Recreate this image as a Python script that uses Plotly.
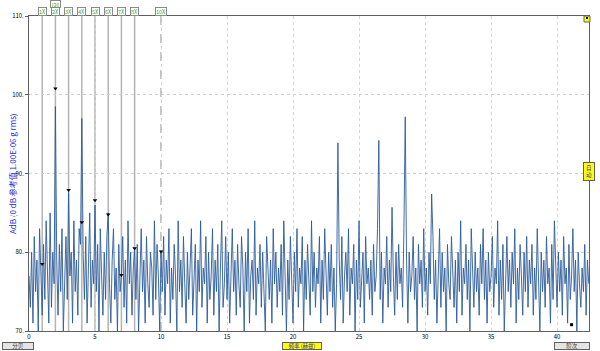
import plotly.graph_objects as go

step = 0.1
amp_db = [
    77, 73, 80, 71, 82, 75, 79, 70, 83, 76, 72, 81, 74, 84, 78, 71, 85, 73, 80, 76,
    98.5, 79, 72, 81, 75, 83, 70, 78, 82, 74, 87.6, 77, 80, 71, 84, 75, 79, 72, 83, 81,
    97.0, 80, 74, 82, 71, 78, 85, 73, 79, 76, 86.0, 75, 81, 70, 83, 77, 72, 80, 74, 82,
    85.0, 76, 71, 79, 83, 74, 78, 70, 81, 75, 77.0, 82, 73, 79, 71, 84, 76, 80, 72, 78,
    80.5, 74, 81, 70, 77, 83, 75, 79, 71, 82, 76, 73, 80, 78, 72, 84, 74, 81, 77, 70,
    80, 75, 82, 72, 79, 76, 83, 71, 78, 74, 81, 77, 70, 84, 75, 79, 73, 82, 76, 71,
    80, 74, 78, 83, 72, 77, 81, 70, 79, 75, 84, 73, 78, 76, 82, 71, 80, 74, 77, 83,
    72, 79, 75, 81, 70, 78, 84, 73, 76, 82, 74, 80, 71, 77, 83, 75, 79, 72, 81, 76,
    73, 82, 78, 70, 80, 75, 83, 71, 77, 79, 74, 84, 72, 78, 76, 81, 73, 80, 75, 70,
    82, 77, 74, 79, 71, 83, 76, 80, 73, 78, 75, 81, 72, 84, 77, 70, 79, 74, 82, 76,
    71, 80, 75, 83, 73, 78, 76, 82, 70, 79, 74, 81, 77, 72, 84, 75, 80, 73, 78, 76,
    82, 71, 79, 74, 83, 77, 72, 80, 75, 81, 73, 78, 70, 76, 93.9, 79, 74, 82, 71, 77,
    80, 75, 83, 72, 78, 76, 81, 70, 79, 74, 84, 73, 77, 80, 71, 82, 76, 78, 74, 79,
    72, 81, 75, 77, 83, 94.2, 74, 80, 71, 78, 76, 82, 73, 79, 75, 85.7, 77, 72, 80, 74,
    81, 76, 78, 73, 83, 97.2, 79, 71, 80, 75, 77, 82, 74, 78, 70, 81, 76, 79, 73, 83,
    75, 78, 72, 80, 76, 87.4, 82, 74, 79, 71, 77, 83, 73, 80, 75, 78, 70, 81, 76, 74,
    82, 77, 73, 79, 71, 80, 75, 84, 72, 78, 76, 81, 74, 79, 70, 83, 77, 73, 80, 75,
    78, 72, 81, 76, 83, 74, 79, 71, 80, 75, 77, 82, 73, 78, 76, 84, 72, 79, 74, 81,
    70, 77, 82, 75, 79, 73, 80, 76, 83, 71, 78, 74, 81, 77, 72, 80, 75, 82, 73, 79,
    76, 81, 72, 78, 74, 83, 77, 70, 80, 75, 79, 73, 82, 76, 78, 71, 81, 74, 84, 77,
    73, 80, 75, 79, 72, 82, 76, 78, 71, 81, 74, 77, 83, 75, 79, 70, 80, 76, 73, 78,
    75, 81, 72, 79, 76,
]
freq_hz = [round(i * step, 3) for i in range(len(amp_db))]

harm_labels = ["1X", "2X", "3X", "4X", "5X", "6X", "7X", "8X", "10X"]
harm_freq = [1.0, 2.0, 3.0, 4.0, 5.0, 6.0, 7.0, 8.0, 10.0]
harm_marker_db = [78.5, 100.8, 87.9, 83.8, 86.6, 84.8, 77.1, 80.5, 80.1]

x_ticks = [0, 5, 10, 15, 20, 25, 30, 35, 40]
y_ticks = [70, 80, 90, 100, 110]
y_ticktext = ["70.", "80.", "90.", "100.", "110."]

cursor_freq = [41.1]
cursor_db = [70.8]

FONT = "Noto Sans CJK SC, Liberation Sans, Arial"

fig_w, fig_h = 600, 351
ml, mr, mt, mb = 29, 11, 16, 20
pw, ph = fig_w - ml - mr, fig_h - mt - mb


def px_to_paper_x(px):
    return (px - ml) / pw


def px_to_paper_y(py):
    return (fig_h - mb - py) / ph


fig = go.Figure()
fig.add_trace(go.Scatter(x=freq_hz, y=amp_db, mode="lines",
                         line=dict(color="#2b5b9a", width=0.9), hoverinfo="skip",
                         showlegend=False))
fig.add_trace(go.Scatter(x=harm_freq, y=harm_marker_db, mode="markers",
                         marker=dict(symbol="triangle-down", size=4, color="black"),
                         showlegend=False))
fig.add_trace(go.Scatter(x=cursor_freq, y=cursor_db, mode="markers",
                         marker=dict(symbol="square", size=3, color="black"),
                         showlegend=False))

shapes = []
annotations = []
for lab, f in zip(harm_labels, harm_freq):
    dashed = lab == "10X"
    shapes.append(dict(type="line", xref="x", yref="paper", x0=f, x1=f, y0=0, y1=1,
                       line=dict(color="#8a8a8a" if dashed else "#b4b4b4",
                                 width=1 if dashed else 1.5,
                                 dash="dash" if dashed else "solid"),
                       layer="below"))
    annotations.append(dict(x=f, y=px_to_paper_y(15.5), xref="x", yref="paper",
                            yanchor="bottom", text=lab, showarrow=False,
                            font=dict(size=5.5, color="#3aa53a", family=FONT),
                            bgcolor="white", bordercolor="#8a8a8a", borderwidth=1,
                            borderpad=0, height=7))
annotations.append(dict(x=2.0, y=px_to_paper_y(0.5), xref="x", yref="paper",
                        yanchor="top", text="120", showarrow=False,
                        font=dict(size=5, color="#3aa53a", family=FONT),
                        bgcolor="white", bordercolor="#8a8a8a", borderwidth=1,
                        borderpad=0, height=6))

# y-axis title
annotations.append(dict(x=px_to_paper_x(5), y=0.5, xref="paper", yref="paper",
                        text="AdB (0 dB 参考值 1.00E-06 g rms)", textangle=-90,
                        showarrow=False, font=dict(size=8, color="#2a2ad8", family=FONT)))

# bottom buttons
for xc, txt, bg, w in [(18, "分贝", "#e4e4e4", 30), (302, "频率 (赫兹)", "yellow", 38),
                       (572, "阶次", "#e4e4e4", 34)]:
    annotations.append(dict(x=px_to_paper_x(xc), y=px_to_paper_y(346), xref="paper",
                            yref="paper", xanchor="center", yanchor="middle",
                            text=txt, showarrow=False,
                            font=dict(size=5.5, color="#3030a0" if bg == "yellow" else "#404040",
                                      family=FONT),
                            bgcolor=bg, bordercolor="#606060", borderwidth=1,
                            borderpad=0, width=w, height=6))

annotations.append(dict(x=px_to_paper_x(589), y=px_to_paper_y(171), xref="paper",
                        yref="paper", xanchor="center", yanchor="middle", text="自<br>动",
                        showarrow=False,
                        font=dict(size=5.5, color="#3030a0", family=FONT),
                        bgcolor="yellow", bordercolor="#606060", borderwidth=1,
                        borderpad=1, width=8))
shapes.append(dict(type="rect", xref="paper", yref="paper",
                   x0=px_to_paper_x(584), x1=px_to_paper_x(590),
                   y0=px_to_paper_y(22), y1=px_to_paper_y(16),
                   fillcolor="yellow", line=dict(color="#606060", width=1)))
shapes.append(dict(type="rect", xref="paper", yref="paper",
                   x0=px_to_paper_x(586), x1=px_to_paper_x(588),
                   y0=px_to_paper_y(19), y1=px_to_paper_y(17),
                   fillcolor="black", line=dict(width=0)))

fig.update_layout(
    width=fig_w, height=fig_h,
    margin=dict(l=ml, r=mr, t=mt, b=mb),
    paper_bgcolor="white", plot_bgcolor="white",
    shapes=shapes, annotations=annotations,
    font=dict(family=FONT, size=7, color="black"),
    xaxis=dict(range=[0, 42.42], tickvals=x_ticks, ticks="", showgrid=True,
               gridcolor="#d4d4d4", griddash="dot", gridwidth=1,
               showline=True, linecolor="#606060", linewidth=1, mirror=True,
               zeroline=False, tickfont=dict(size=6)),
    yaxis=dict(range=[70, 110], tickvals=y_ticks, ticktext=y_ticktext,
               ticks="outside", ticklen=3, tickcolor="#5050d0",
               showgrid=True, gridcolor="#d0d0d0", griddash="dot", gridwidth=1,
               showline=True, linecolor="#606060", linewidth=1, mirror=True,
               zeroline=False, tickfont=dict(size=6)),
)

fig.write_html("out.html")
